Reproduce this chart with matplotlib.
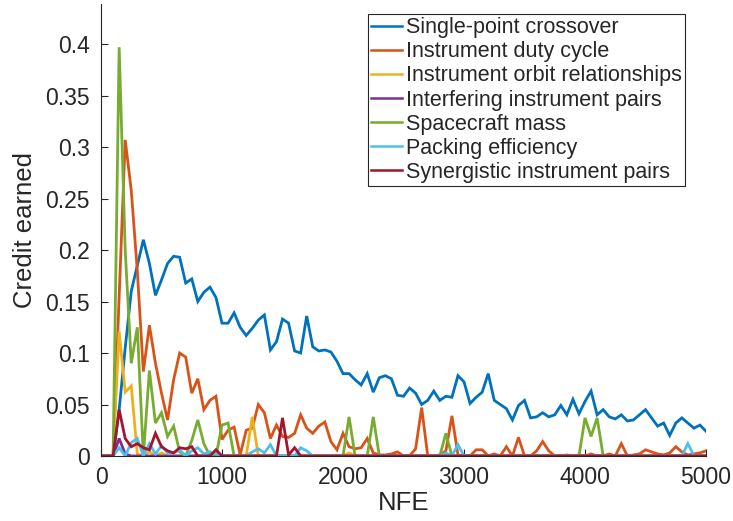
import matplotlib
matplotlib.use('Agg')
import matplotlib.pyplot as plt

plt.rcParams['font.family'] = ['Liberation Sans', 'DejaVu Sans']

# NFE sample grid (every 50 evaluations)
nfe = list(range(0, 5001, 50))

single_point = [
    0, 0, 0, 0.045, 0.105, 0.16, 0.185, 0.21, 0.187, 0.156,
    0.171, 0.187, 0.194, 0.193, 0.168, 0.172, 0.15, 0.159, 0.164, 0.154,
    0.129, 0.129, 0.139, 0.125, 0.117, 0.124, 0.132, 0.137, 0.103, 0.111,
    0.133, 0.129, 0.102, 0.1, 0.136, 0.106, 0.102, 0.103, 0.101, 0.092,
    0.08, 0.08, 0.074, 0.069, 0.08, 0.062, 0.076, 0.078, 0.075, 0.059,
    0.058, 0.066, 0.061, 0.05, 0.054, 0.063, 0.054, 0.058, 0.057, 0.078,
    0.072, 0.051, 0.057, 0.062, 0.08, 0.054, 0.05, 0.046, 0.035, 0.049,
    0.054, 0.037, 0.038, 0.042, 0.038, 0.04, 0.049, 0.04, 0.055, 0.041,
    0.053, 0.063, 0.04, 0.045, 0.038, 0.036, 0.04, 0.034, 0.035, 0.04,
    0.045, 0.037, 0.029, 0.032, 0.02, 0.032, 0.037, 0.032, 0.027, 0.03,
    0.024]

duty_cycle = [
    0, 0, 0, 0.155, 0.307, 0.258, 0.18, 0.082, 0.127, 0.09,
    0.061, 0.035, 0.074, 0.1, 0.096, 0.061, 0.075, 0.045, 0.054, 0.058,
    0.016, 0.025, 0.028, 0.001, 0.025, 0.027, 0.05, 0.042, 0.017, 0.03,
    0.019, 0.018, 0.022, 0.04, 0.027, 0.022, 0.029, 0.033, 0.014, 0.006,
    0.022, 0.009, 0.007, 0.008, 0.017, 0.003, 0.001, 0.001, 0.002, 0.004,
    0, 0, 0.007, 0.047, 0, 0, 0.001, 0.005, 0.039, 0.001,
    0, 0, 0.006, 0.006, 0, 0.002, 0, 0.009, 0, 0.018,
    0, 0, 0.005, 0.014, 0.005, 0, 0, 0.001, 0, 0.001,
    0, 0.002, 0, 0, 0.002, 0, 0.012, 0, 0.001, 0.002,
    0.006, 0.004, 0.002, 0.001, 0.003, 0.009, 0.004, 0.001, 0.002, 0.003,
    0.005]

orbit_rel = [
    0, 0, 0, 0.121, 0.062, 0.068, 0.002, 0, 0.004, 0,
    0.003, 0, 0, 0, 0, 0, 0, 0, 0, 0,
    0, 0, 0, 0, 0, 0.038, 0, 0, 0, 0,
    0, 0, 0, 0, 0, 0, 0, 0, 0, 0,
    0, 0.003, 0, 0, 0, 0, 0, 0, 0, 0,
    0, 0, 0, 0, 0, 0, 0, 0, 0, 0,
    0, 0, 0, 0, 0, 0, 0, 0, 0, 0,
    0, 0, 0, 0, 0, 0, 0, 0, 0, 0,
    0, 0, 0, 0, 0, 0, 0, 0, 0, 0,
    0, 0, 0, 0, 0, 0, 0, 0, 0, 0,
    0]

interfering = [
    0, 0, 0, 0.017, 0.002, 0, 0, 0, 0, 0,
    0, 0, 0, 0, 0, 0, 0, 0, 0, 0,
    0, 0, 0, 0, 0, 0, 0, 0, 0, 0,
    0, 0, 0, 0, 0, 0, 0, 0, 0, 0,
    0, 0, 0, 0, 0, 0, 0, 0, 0, 0,
    0, 0, 0, 0, 0, 0, 0, 0, 0, 0,
    0, 0, 0, 0, 0, 0, 0, 0, 0, 0,
    0, 0, 0, 0, 0, 0, 0, 0, 0, 0,
    0, 0, 0, 0, 0, 0, 0, 0, 0, 0,
    0, 0, 0, 0, 0, 0, 0, 0, 0, 0,
    0]

sc_mass = [
    0, 0, 0, 0.397, 0.2, 0.09, 0.125, 0, 0.083, 0.032,
    0.042, 0.019, 0.029, 0.004, 0, 0.015, 0.035, 0.012, 0, 0,
    0.03, 0.032, 0, 0, 0, 0, 0, 0, 0, 0,
    0, 0, 0, 0, 0, 0, 0, 0, 0, 0,
    0, 0.038, 0, 0, 0, 0.038, 0, 0, 0, 0,
    0, 0, 0, 0, 0, 0, 0, 0.022, 0, 0,
    0, 0, 0, 0, 0, 0, 0, 0, 0, 0,
    0, 0, 0, 0, 0, 0, 0, 0, 0, 0,
    0.037, 0.019, 0.037, 0, 0, 0, 0, 0, 0, 0,
    0, 0, 0, 0, 0, 0, 0, 0, 0, 0,
    0]

packing = [
    0, 0, 0, 0.008, 0, 0.013, 0.017, 0, 0.012, 0.002,
    0.01, 0.003, 0.003, 0.006, 0, 0.005, 0.008, 0.002, 0.004, 0.002,
    0, 0, 0, 0, 0, 0.004, 0.007, 0.003, 0.011, 0,
    0, 0, 0, 0.008, 0.005, 0, 0, 0, 0, 0,
    0, 0, 0, 0, 0, 0, 0, 0, 0, 0,
    0, 0, 0, 0, 0, 0, 0, 0.003, 0, 0.011,
    0, 0, 0, 0, 0, 0, 0, 0, 0, 0,
    0, 0, 0, 0, 0, 0, 0, 0, 0, 0,
    0, 0, 0, 0, 0, 0, 0, 0, 0, 0,
    0, 0, 0, 0, 0, 0, 0, 0.012, 0, 0,
    0]

synergistic = [
    0, 0, 0, 0.045, 0.017, 0.009, 0.012, 0.008, 0.006, 0.022,
    0.009, 0.005, 0.003, 0.008, 0.007, 0.009, 0, 0, 0, 0.006,
    0, 0, 0, 0, 0, 0, 0, 0, 0, 0,
    0.037, 0.001, 0.008, 0, 0, 0, 0, 0, 0, 0,
    0, 0, 0, 0, 0, 0, 0, 0, 0, 0,
    0, 0, 0, 0, 0, 0, 0, 0, 0, 0,
    0, 0, 0, 0, 0, 0, 0, 0, 0, 0,
    0, 0, 0, 0, 0, 0, 0, 0, 0, 0,
    0, 0, 0, 0, 0, 0, 0, 0, 0, 0,
    0, 0, 0, 0, 0, 0, 0, 0, 0, 0,
    0]

labels = ['Single-point crossover', 'Instrument duty cycle',
          'Instrument orbit relationships', 'Interfering instrument pairs',
          'Spacecraft mass', 'Packing efficiency', 'Synergistic instrument pairs']
colors = ['#0072BD', '#D95319', '#EDB120', '#7E2F8E', '#77AC30', '#4DBEEE', '#A2142F']
series = [single_point, duty_cycle, orbit_rel, interfering, sc_mass, packing, synergistic]

yticks = [0, 0.05, 0.1, 0.15, 0.2, 0.25, 0.3, 0.35, 0.4]
ytick_labels = ['0', '0.05', '0.1', '0.15', '0.2', '0.25', '0.3', '0.35', '0.4']

fig = plt.figure(figsize=(7.33, 5.21), dpi=100)
ax = fig.add_axes([0.1378, 0.1248, 0.8254, 0.8675])

for y, name, c in zip(series, labels, colors):
    ax.plot(nfe, y, color=c, lw=2, label=name, solid_joinstyle='miter')

ax.set_xlim(0, 5000)
ax.set_ylim(0, 0.439)
ax.set_xticks([0, 1000, 2000, 3000, 4000, 5000])
ax.set_yticks(yticks)
ax.set_yticklabels(ytick_labels)

for s in ['top', 'right']:
    ax.spines[s].set_visible(False)
for s in ['left', 'bottom']:
    ax.spines[s].set_color('#262626')
    ax.spines[s].set_linewidth(0.8)

ax.tick_params(direction='in', length=5, width=0.8, color='#262626',
               labelcolor='#262626', labelsize=16.5)
ax.tick_params(axis='y', pad=8)
ax.tick_params(axis='x', pad=7)

ax.set_xlabel('NFE', fontsize=18.5, color='#262626', labelpad=2)
ax.set_ylabel('Credit earned', fontsize=18.5, color='#262626', labelpad=6)

leg = ax.legend(loc='upper right', bbox_to_anchor=(0.966, 0.978), fontsize=15.5,
                frameon=True, fancybox=False, framealpha=1, edgecolor='#262626',
                borderpad=0.15, labelspacing=0.145, handlelength=1.45,
                handletextpad=0.2, borderaxespad=0)
leg.get_frame().set_linewidth(0.8)
for line in leg.get_lines():
    line.set_linewidth(1.8)
for t in leg.get_texts():
    t.set_color('#262626')

fig.savefig('out.png', dpi=100)
